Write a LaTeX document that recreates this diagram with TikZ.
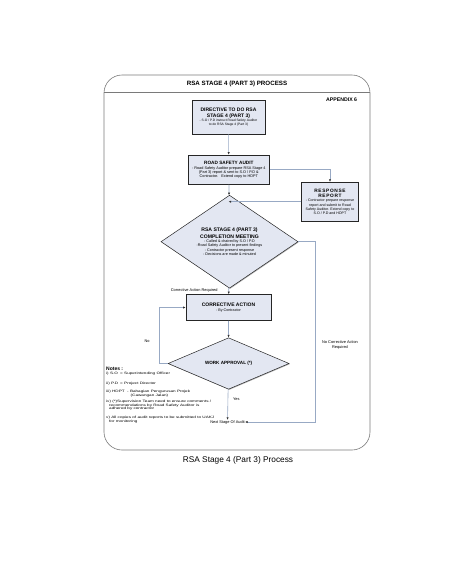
\documentclass[tikz,border=0pt]{standalone}
\usepackage{fontspec}
\setmainfont{Liberation Sans}
\newfontfamily\notefont[FakeStretch=1.4]{Liberation Sans}
\usepackage{xcolor}
\usepackage{tikz}
\usetikzlibrary{positioning,shapes.geometric,arrows.meta,shadows}
\definecolor{boxfill}{HTML}{E3E7F2}
\definecolor{linkblue}{HTML}{98A9C4}
\definecolor{framegray}{HTML}{7A7A7A}
\tikzstyle{every node}=[font=\fontsize{3.7}{4.2}\selectfont, inner sep=0pt]
\tikzstyle{process}=[rectangle, draw=black!85, fill=boxfill, line width=0.5pt,
  align=center, drop shadow={shadow xshift=0.7pt, shadow yshift=-0.7pt, fill=black!60}]
\tikzstyle{decision}=[diamond, draw=black!85, fill=boxfill, line width=0.5pt,
  align=center, drop shadow={shadow xshift=0.7pt, shadow yshift=-0.7pt, fill=black!60}]
\tikzstyle{line}=[draw=linkblue, line width=0.6pt,
  -{Latex[length=2.6pt,width=2.2pt,color=black!80]}]
\tikzstyle{tag}=[font=\fontsize{3.9}{4.6}\selectfont, align=center]
\newcommand{\bighead}[2][5]{{\fontsize{#1}{6}\selectfont\bfseries #2}}
\newcommand{\retour}[3]{
\draw[line] (#2) -- (#1) |- (#3);
}

\begin{document}
\begin{tikzpicture}[x=1pt, y=-1pt]
  \useasboundingbox (0,0) rectangle (450,582);
  % frame and title
  \draw[framegray, line width=0.6pt, rounded corners=18pt] (104,75) rectangle (370,450);
  \draw[framegray, line width=0.6pt] (104,92.5) -- (370,92.5);
  \node (title) [font=\fontsize{6.2}{7}\selectfont\bfseries] at (237,84)
        {RSA STAGE 4 (PART 3) PROCESS};
  \node (appendix) [font=\fontsize{5.2}{6}\selectfont\bfseries, anchor=west] at (326,100)
        {APPENDIX 6};
  % process steps
  \node (directive) [process, font=\fontsize{3.3}{3.4}\selectfont,
        minimum width=73pt, minimum height=34pt] at (228.5,117)
        {\bighead{DIRECTIVE TO DO RSA}\\[1.2pt]
         \bighead{STAGE 4 (PART 3)}\\[0.2pt]
         - S.O / P.D instruct Road Safety Auditor\\
         to do RSA Stage 4 (Part 3)};
  \node (audit) [process, font=\fontsize{3.8}{4.2}\selectfont,
        minimum width=81pt, minimum height=29.5pt] at (228.8,169.7)
        {\bighead[4.7]{ROAD SAFETY AUDIT}\\[0.6pt]
         - Road Safety Auditor prepare RSA Stage 4\\
         (Part 3) report \& sent to S.O / P.D \&\\
         Contractor.\ \ \ Extend copy to HDPT};
  \node (response) [process, font=\fontsize{3.6}{4.1}\selectfont,
        minimum width=57pt, minimum height=39pt] at (330,201.7)
        {\bighead[4.8]{\addfontfeature{LetterSpace=14}RESPONSE}\\[1pt]
         \bighead[4.8]{\addfontfeature{LetterSpace=14}REPORT}\\[0.3pt]
         - Contractor prepare response\\
         report and submit to Road\\
         Safety Auditor. Extend copy to\\
         S.O / P.D and HDPT};
  \node (meeting) [decision, minimum width=137pt, minimum height=60pt] at (229.5,241.7)
        {\bighead[5.1]{RSA STAGE 4 (PART 3)}\\[1pt]
         \bighead[5.1]{COMPLETION MEETING}\\[0.2pt]
         - Called \& chaired by S.O / P.D\\
         -Road Safety Auditor to present findings\\
         - Contractor present response\\
         - Decisions are made \& minuted};
  \node (corrective) [process, minimum width=85pt, minimum height=26pt] at (228.5,307.5)
        {\bighead{CORRECTIVE ACTION}\\[0.3pt]
         - By Contractor};
  \node (approval) [decision, minimum width=121pt, minimum height=33pt] at (228.6,363.5)
        {\bighead[4.6]{WORK APPROVAL (*)}};
  \node (nextstage) [tag] at (227.5,422) {Next Stage Of Audit};
  \coordinate (join) at (228.5,201.7);
  \coordinate (loopleft) at (159,363.5);
  \coordinate (rightturn) at (315,241.7);
  % connectors
  \draw[line] (directive) -- (audit);
  \draw[line] (audit.east) -| (response.north);
  \draw[line] (response.west) -- (join);
  \draw[line] (audit) -- (meeting);
  \draw[line] (meeting) -- node[tag, anchor=east, pos=0.45, xshift=-11pt]
        {Corrective Action Required} (corrective);
  \draw[line] (corrective) -- (approval);
  \retour{loopleft}{approval.west}{corrective.west}
  \draw[line] (approval) -- (nextstage);
  \draw[line] (meeting.east) -- (rightturn) |- (nextstage.east);
  % labels
  \node (no) [tag] at (147,341) {No};
  \node (yes) [tag, anchor=west] at (233,399) {Yes};
  \node (nocorr) [tag] at (340,345) {No Corrective Action\\Required};
  % notes
  \node (notes) [anchor=north west, align=left, font=\notefont\fontsize{3.3}{3.4}\selectfont]
        at (106,367)
        {{\normalfont\fontsize{5}{5.5}\selectfont\bfseries Notes :}\\[0.8pt]
         \makebox[14pt][l]{i) S.O}= Superintending Officer\\[6.3pt]
         \makebox[14pt][l]{ii) P.D}= Project Director\\[4.8pt]
         \makebox[21pt][l]{iii) HDPT}- Bahagian Pengurusan Projek\\
         \makebox[24.5pt][l]{}(Cawangan Jalan)\\[3.2pt]
         iv) (*)Supervision Team need to ensure comments /\\
         \makebox[3pt][l]{}recommendations by Road Safety Auditor is\\
         \makebox[3pt][l]{}adhered by contractor\\[5.8pt]
         v) All copies of audit reports to be submitted to UAKJ\\
         \makebox[3pt][l]{}for monitoring};
  % caption
  \node (caption) [font=\fontsize{8.3}{10}\selectfont] at (238,460)
        {RSA Stage 4 (Part 3) Process};
\end{tikzpicture}
\end{document}
